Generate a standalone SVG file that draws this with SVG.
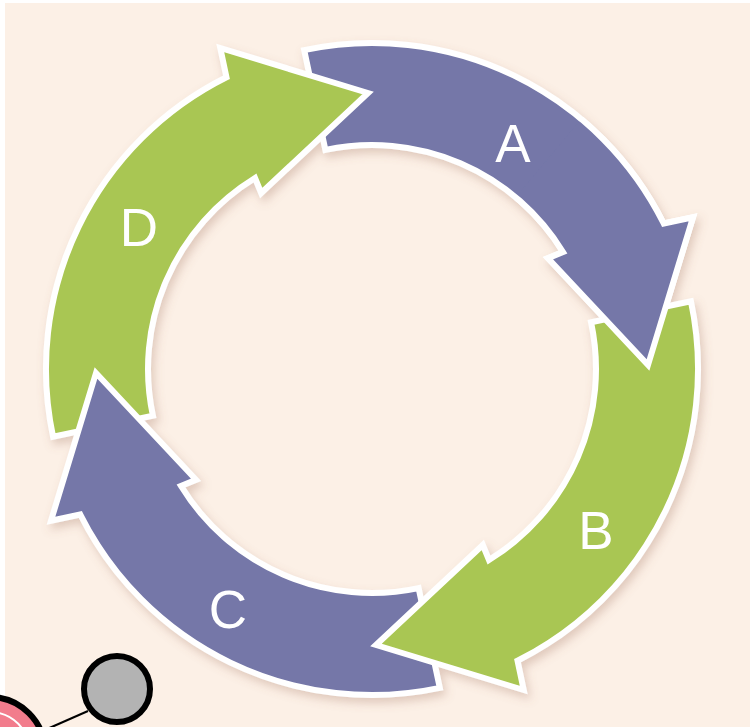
<svg xmlns="http://www.w3.org/2000/svg" width="750" height="727" viewBox="0 0 750 727">
  <defs>
    <style>
      .purple { fill: #7477A8; stroke: #ffffff; stroke-width: 6; stroke-linejoin: miter; }
      .green { fill: #A9C653; stroke: #ffffff; stroke-width: 6; stroke-linejoin: miter; }
      .lbl { font-family: "Liberation Sans", Arial, sans-serif; font-size: 53px; fill: #ffffff; text-anchor: middle; }
    </style>
    <path id="arrowShape" d="M304.2,50.1 A326,326 0 0 1 663.7,223.5 L693,217.3 L648,365 L548,258.2 L563,252 A224,224 0 0 0 325.4,149.9 Z"/>
    <clipPath id="headClip">
      <polygon points="372,369 693,-14 900,-14 900,540 842,540"/>
    </clipPath>
    <filter id="shadow" x="-10%" y="-10%" width="120%" height="120%">
      <feDropShadow dx="3" dy="5" stdDeviation="5" flood-color="#a0705a" flood-opacity="0.3"/>
    </filter>
  </defs>

  <rect x="0" y="0" width="750" height="727" fill="#ffffff"/>
  <rect x="5" y="3" width="745" height="724" fill="#FCF0E6"/>

  <g id="cycle" filter="url(#shadow)">
    <g id="node-A"><use href="#arrowShape" class="purple"/></g>
    <g id="node-D"><use href="#arrowShape" class="green" transform="rotate(270 372 369)"/></g>
    <g id="node-C"><use href="#arrowShape" class="purple" transform="rotate(180 372 369)"/></g>
    <g id="node-B"><use href="#arrowShape" class="green" transform="rotate(90 372 369)"/></g>
    <g id="node-A-head" clip-path="url(#headClip)"><use href="#arrowShape" class="purple"/></g>
  </g>

  <g id="labels">
    <text class="lbl" x="513" y="162">A</text>
    <text class="lbl" x="596" y="549">B</text>
    <text class="lbl" x="228" y="628">C</text>
    <text class="lbl" x="139" y="246">D</text>
  </g>

  <g id="connectors">
    <line x1="38" y1="733" x2="88" y2="711" stroke="#000000" stroke-width="2"/>
  </g>
  <g id="node-pink">
    <circle cx="-10" cy="752" r="55" fill="#F27C8C" stroke="#000000" stroke-width="6"/>
    <circle cx="-10" cy="752" r="40" fill="none" stroke="#ffffff" stroke-width="2"/>
  </g>
  <g id="node-gray">
    <circle cx="117" cy="689" r="33" fill="#B3B3B3" stroke="#000000" stroke-width="6"/>
  </g>
</svg>
